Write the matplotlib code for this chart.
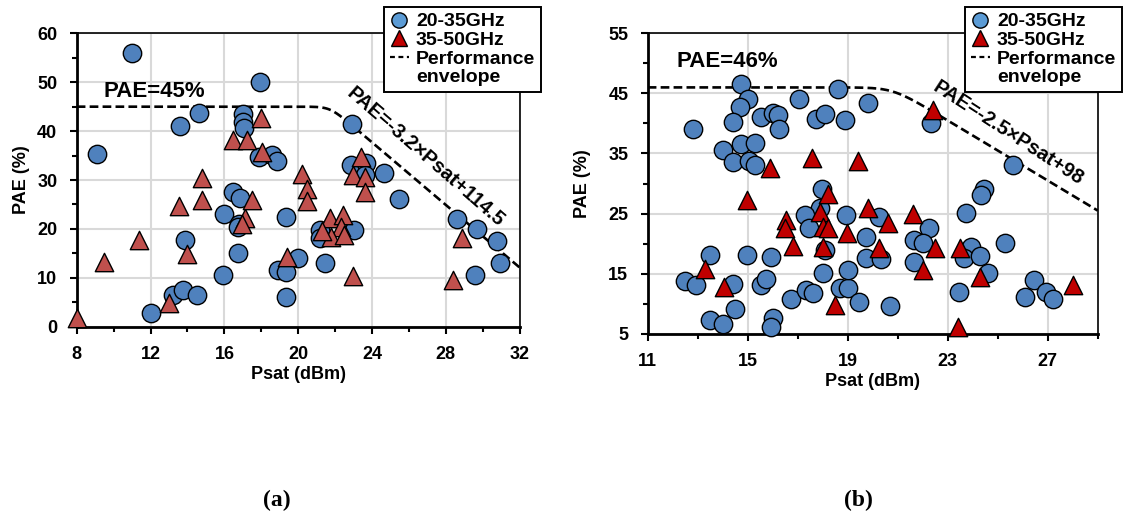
import matplotlib
matplotlib.use('Agg')
import matplotlib.pyplot as plt
from matplotlib.lines import Line2D
import numpy as np

FONT = ['Liberation Sans', 'DejaVu Sans']
plt.rcParams['font.family'] = FONT
plt.rcParams['font.weight'] = 'bold'

BLUE = '#4F81BD'
RED_A = '#C0504D'
RED_B = '#C00000'
LEG_BLUE = '#5B9BD5'
GRID = '#D9D9D9'

# (a) survey: Psat (dBm) vs PAE (%)
a_low_x = [9.1, 11.0, 12.0, 13.2, 13.75, 14.5, 13.6, 14.6, 13.85, 16.0, 15.95,
           16.45, 16.85, 16.8, 16.75, 16.75, 17.0, 17.0, 17.05, 17.95, 17.9,
           18.6, 18.85, 19.35, 18.9, 19.35, 19.35, 20.0, 21.2, 21.2, 21.45,
           22.9, 22.85, 23.0, 23.65, 23.6, 24.65, 25.45, 28.6, 29.7, 29.6,
           30.75, 30.95]
a_low_y = [35.4, 56.0, 2.9, 6.5, 7.5, 6.5, 41.0, 43.8, 17.7, 23.1, 10.6,
           27.6, 26.3, 21.0, 20.4, 15.0, 43.6, 41.9, 40.6, 50.0, 34.8,
           35.1, 33.9, 22.4, 11.6, 11.2, 6.1, 14.1, 19.8, 18.1, 13.1,
           41.5, 33.1, 19.8, 33.4, 31.0, 31.4, 26.2, 22.0, 19.9, 10.6,
           17.5, 13.1]
a_high_x = [8.0, 9.5, 11.4, 13.0, 13.55, 13.95, 14.8, 14.8, 16.45, 17.2, 17.1,
            16.95, 17.5, 18.0, 18.05, 19.4, 20.2, 20.45, 20.5, 21.7, 22.4,
            22.3, 21.8, 22.5, 21.3, 22.95, 23.4, 22.95, 23.6, 23.6, 28.4, 28.85]
a_high_y = [1.7, 13.3, 17.7, 4.8, 24.7, 14.9, 30.5, 25.9, 38.2, 38.2, 22.3,
            21.1, 25.9, 42.6, 35.7, 14.2, 31.2, 28.1, 25.7, 22.2, 22.8,
            20.4, 18.4, 18.8, 19.5, 10.4, 34.8, 31.0, 30.7, 27.6, 9.5, 18.1]

# (b) survey
b_low_x = [12.8, 14.75, 15.0, 14.7, 14.4, 14.0, 14.75, 15.3, 14.4, 15.05, 15.3,
           15.55, 16.0, 16.2, 16.25, 17.05, 17.75, 18.1, 18.6, 18.9, 19.8,
           22.35, 25.6, 24.45, 24.35, 17.98, 17.9, 17.3, 17.45, 18.95, 19.75,
           18.1, 15.95, 13.5, 14.98, 12.5, 12.95, 14.4, 15.55, 15.75, 18.0,
           16.75, 17.35, 17.6, 18.7, 19.0, 14.5, 13.5, 14.0, 16.0, 15.95,
           19.0, 20.25, 19.75, 20.35, 19.45, 20.7, 22.25, 21.65, 22.0, 21.65,
           23.75, 23.95, 23.65, 24.3, 24.6, 25.3, 23.45, 26.45, 26.1, 26.95,
           27.2]
b_low_y = [39.1, 46.5, 44.0, 42.7, 40.2, 35.5, 36.6, 36.7, 33.5, 33.8, 33.0,
           41.1, 41.7, 41.4, 39.1, 44.1, 40.8, 41.5, 45.7, 40.5, 43.4,
           40.0, 33.0, 29.1, 28.1, 29.1, 25.9, 24.8, 22.6, 24.8, 21.1,
           19.0, 17.8, 18.1, 18.1, 13.7, 13.1, 13.3, 13.1, 14.1, 15.1,
           10.7, 12.3, 11.8, 12.6, 12.6, 9.1, 7.2, 6.7, 7.6, 6.1,
           15.6, 24.4, 17.6, 17.4, 10.3, 9.6, 22.6, 20.6, 20.1, 17.0,
           25.1, 19.5, 17.6, 18.0, 15.1, 20.1, 12.0, 13.9, 11.1, 12.0,
           10.8]
b_high_x = [13.3, 14.05, 14.98, 15.88, 16.55, 16.5, 16.8, 17.58, 17.9, 18.2,
            18.0, 18.2, 18.0, 18.5, 18.97, 19.4, 19.8, 20.6, 20.25, 21.6,
            22.5, 22.0, 22.4, 23.5, 24.3, 23.4, 28.0]
b_high_y = [15.7, 12.7, 27.2, 32.5, 24.0, 22.6, 19.6, 34.3, 25.3, 28.2,
            22.7, 22.6, 19.5, 9.7, 21.7, 33.7, 26.0, 23.5, 19.2, 24.9,
            19.2, 15.6, 42.3, 19.2, 14.4, 6.2, 13.1]

# tick positions
a_xticks = [8, 12, 16, 20, 24, 28, 32]
a_xminor = [10, 14, 18, 22, 26, 30]
a_yticks = [0, 10, 20, 30, 40, 50, 60]
a_yminor = [5, 15, 25, 35, 45, 55]
b_xticks = [11, 15, 19, 23, 27]
b_xminor = [13, 17, 21, 25, 29]
b_yticks = [5, 15, 25, 35, 45, 55]
b_yminor = [10, 20, 30, 40, 50]

# envelope: flat PAE limit, then PAE = slope*Psat + intercept
a_flat, a_slope, a_icpt = 45, -3.2, 114.5
b_flat, b_slope, b_icpt = 46, -2.5, 98


def envelope(x, flat, slope, icpt, k):
    # smooth minimum of the flat limit and the linear roll-off
    lin = slope * x + icpt
    m = np.minimum(flat, lin)
    return m - k * np.log(np.exp(-(flat - m) / k) + np.exp(-(lin - m) / k))


def style_axes(ax, xlim, ylim, xt, xm, yt, ym):
    ax.set_xlim(*xlim)
    ax.set_ylim(*ylim)
    ax.set_xticks(xt)
    ax.set_xticks(xm, minor=True)
    ax.set_yticks(yt)
    ax.set_yticks(ym, minor=True)
    ax.grid(True, which='major', color=GRID, linewidth=1.5)
    ax.set_axisbelow(True)
    ax.tick_params(which='major', direction='out', length=5, width=1.5,
                   labelsize=13, pad=9)
    ax.tick_params(which='minor', direction='out', length=3.5, width=1.5)
    for s in ('left', 'bottom'):
        ax.spines[s].set_linewidth(2.0)
    for s in ('top', 'right'):
        ax.spines[s].set_linewidth(1.2)
    for lab in ax.get_xticklabels() + ax.get_yticklabels():
        lab.set_fontweight('bold')
    ax.set_xlabel('Psat (dBm)', fontsize=13, fontweight='bold', labelpad=2)
    ax.set_ylabel('PAE (%)', fontsize=13, fontweight='bold')


def add_legend(ax, tri_color, right, top):
    handles = [
        Line2D([], [], marker='o', ls='none', mfc=LEG_BLUE, mec='black',
               ms=11, mew=1),
        Line2D([], [], marker='^', ls='none', mfc=tri_color, mec='black',
               ms=11, mew=1),
        Line2D([], [], color='black', ls=(0, (2.2, 1.6)), lw=1.6),
        Line2D([], [], ls='none'),
    ]
    labels = ['20-35GHz', '35-50GHz', 'Performance', 'envelope']
    leg = ax.legend(handles, labels, loc='upper right',
                    bbox_to_anchor=(right, top), bbox_transform=fig.transFigure,
                    prop={'family': FONT, 'weight': 'bold', 'size': 14},
                    handlelength=1.0, handletextpad=0.35, labelspacing=0.05,
                    borderpad=0.3, borderaxespad=0, fancybox=False,
                    framealpha=1, edgecolor='black')
    leg.get_frame().set_linewidth(1.4)
    leg.set_zorder(10)


fig = plt.figure(figsize=(11.3, 5.19), dpi=100)
ax_a = fig.add_axes([0.0679, 0.3705, 0.392, 0.5653])
ax_b = fig.add_axes([0.5732, 0.357, 0.3982, 0.5788])

# ---- (a) ----
style_axes(ax_a, (8, 32), (0, 60), a_xticks, a_xminor, a_yticks, a_yminor)
xa = np.linspace(8, 32, 400)
ax_a.plot(xa, envelope(xa, a_flat, a_slope, a_icpt, 0.9), color='black',
          ls=(0, (3.3, 1.6)), lw=1.9, zorder=4)
ax_a.scatter(a_low_x, a_low_y, s=175, marker='o', facecolor=BLUE,
             edgecolor='black', linewidth=1, zorder=5, clip_on=False)
ax_a.scatter(a_high_x, a_high_y, s=175, marker='^', facecolor=RED_A,
             edgecolor='black', linewidth=1, zorder=6, clip_on=False)
ax_a.text(12.2, 48.2, 'PAE=45%', fontsize=16, fontweight='bold',
          ha='center', va='center')
ax_a.text(26.9, 34.7, 'PAE=-3.2×Psat+114.5', fontsize=14.5, fontweight='bold',
          ha='center', va='center', rotation=-41, rotation_mode='anchor')
ax_a.yaxis.set_label_coords(-0.105, 0.5)
add_legend(ax_a, RED_B, 541 / 1130, 1 - 7 / 519)

# ---- (b) ----
style_axes(ax_b, (11, 29), (5, 55), b_xticks, b_xminor, b_yticks, b_yminor)
xb = np.linspace(11, 29, 400)
ax_b.plot(xb, envelope(xb, b_flat, b_slope, b_icpt, 1.0), color='black',
          ls=(0, (3.3, 1.6)), lw=1.9, zorder=4)
ax_b.scatter(b_low_x, b_low_y, s=175, marker='o', facecolor=BLUE,
             edgecolor='black', linewidth=1, zorder=5, clip_on=False)
ax_b.scatter(b_high_x, b_high_y, s=175, marker='^', facecolor=RED_B,
             edgecolor='black', linewidth=1, zorder=6, clip_on=False)
ax_b.text(14.2, 50.3, 'PAE=46%', fontsize=16, fontweight='bold',
          ha='center', va='center')
ax_b.text(25.4, 38.4, 'PAE=-2.5×Psat+98', fontsize=14.5, fontweight='bold',
          ha='center', va='center', rotation=-33, rotation_mode='anchor')
ax_b.yaxis.set_label_coords(-0.125, 0.5)
add_legend(ax_b, RED_B, 1122 / 1130, 1 - 7 / 519)

fig.text(277 / 1130, 1 - 500 / 519, '(a)', family='Liberation Serif',
         fontweight='bold', fontsize=17, ha='center', va='center')
fig.text(858 / 1130, 1 - 500 / 519, '(b)', family='Liberation Serif',
         fontweight='bold', fontsize=17, ha='center', va='center')

fig.savefig('out.png', dpi=100)
